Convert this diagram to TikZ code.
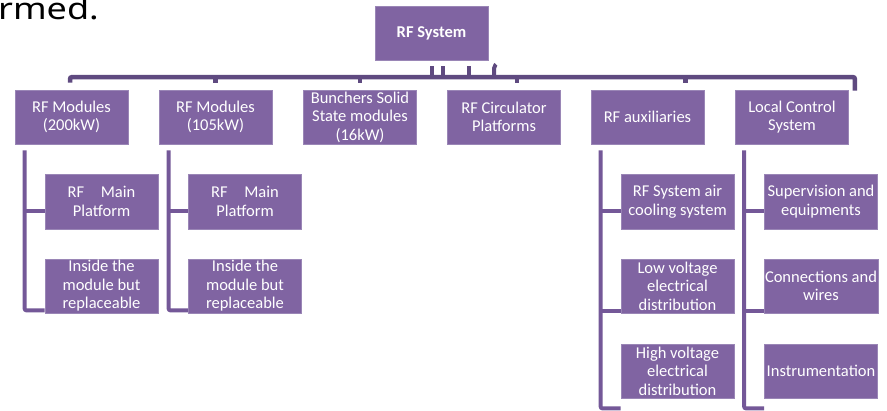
\documentclass[tikz,border=0pt]{standalone}
\usepackage{fontspec}
\setmainfont{Carlito}
\newfontfamily\titlefont{Noto Sans}
\usetikzlibrary{calc}
\definecolor{boxfill}{HTML}{8064A2}
\definecolor{boxline}{HTML}{9A86B6}
\definecolor{busline}{HTML}{5F4A80}
\definecolor{treeline}{HTML}{745898}
\begin{document}
\begin{tikzpicture}[x=1pt,y=-1pt,
  pbox/.style={draw=boxline,line width=0.8pt,fill=boxfill,text=white,
    minimum width=113pt,minimum height=54pt,inner sep=1pt,align=center,
    font=\fontsize{16.5}{18.5}\selectfont},
  conn/.style={draw=busline,line width=4.5pt,rounded corners=2pt},
  tconn/.style={draw=treeline,line width=4pt,rounded corners=2pt}]
\useasboundingbox (0,0) rectangle (887,411);
\fill[white] (0,0) rectangle (887,411);
% title fragment
\node[anchor=base west,inner sep=0pt] (ttl) at (-2,19.5)
  {\scalebox{1.2}[1]{\titlefont\fontsize{30}{32}\selectfont rmed.}};
% top node
\node[pbox,font=\fontsize{16.5}{18.5}\selectfont\bfseries] (sys) at (431.5,33) {RF System};
% level 1
\node[pbox] (m200) at (71.5,117) {RF Modules\\(200kW)};
\node[pbox] (m105) at (215.5,117) {RF Modules\\(105kW)};
\node[pbox] (bun) at (360,117) {Bunchers Solid\\State modules\\(16kW)};
\node[pbox] (circ) at (504,117) {RF Circulator\\Platforms};
\node[pbox] (aux) at (647.5,117) {RF auxiliaries};
\node[pbox] (lcs) at (792,117) {Local Control\\System};
% level 2
\node[pbox,minimum height=55pt] (a1) at (101.5,201.5) {RF\quad Main\\Platform};
\node[pbox] (a2) at (101.5,286) {Inside the\\module but\\replaceable};
\node[pbox,minimum height=55pt] (b1) at (245,201.5) {RF\quad Main\\Platform};
\node[pbox] (b2) at (245,286) {Inside the\\module but\\replaceable};
\node[pbox,minimum height=55pt] (c1) at (677.5,201.5) {RF System air\\cooling system};
\node[pbox] (c2) at (677.5,286) {Low voltage\\electrical\\distribution};
\node[pbox] (c3) at (677.5,371) {High voltage\\electrical\\distribution};
\node[pbox,minimum height=55pt] (d1) at (821,201.5) {Supervision and\\equipments};
\node[pbox] (d2) at (821,286) {Connections and\\wires};
\node[pbox] (d3) at (821,371) {Instrumentation};
% bus
\coordinate (busL) at ([xshift=-1.5pt,yshift=7pt]m200.north);
\coordinate (busR) at ([xshift=6pt,yshift=-1pt]lcs.north east);
\draw[conn] (busL) |- ([xshift=6pt,yshift=12.5pt]lcs.north east) -- (busR);
\foreach \n/\dx in {m105/0,bun/0,circ/13,aux/38}{
  \draw[conn,rounded corners=0pt] ([xshift=\dx pt,yshift=7pt]\n.north) -- ([xshift=\dx pt,yshift=13pt]\n.north);
}
\foreach \dx/\top in {0.5/-6,11/-6,37.5/-6}{
  \draw[conn,line width=4pt,rounded corners=0pt] ([xshift=\dx pt,yshift=\top pt]sys.south) -- ([xshift=\dx pt,yshift=-18pt]sys.south);
}
\draw[conn,line width=4pt] ([xshift=62.5pt,yshift=-18pt]sys.south) -- ([xshift=62.5pt,yshift=-6pt]sys.south) -- ([xshift=64.5pt,yshift=-4pt]sys.south);
% trees
\coordinate (va) at ([xshift=10pt,yshift=-6pt]m200.south west);
\coordinate (sa) at ([yshift=-9.5pt]a1.west);
\draw[tconn] (va) |- ([yshift=3pt]a2.south west);
\draw[tconn,rounded corners=0pt] (sa) -- (va |- sa);
\coordinate (vb) at ([xshift=10pt,yshift=-6pt]m105.south west);
\coordinate (sb) at ([yshift=-9.5pt]b1.west);
\draw[tconn] (vb) |- ([yshift=3pt]b2.south west);
\draw[tconn,rounded corners=0pt] (sb) -- (vb |- sb);
\coordinate (vc) at ([xshift=10pt,yshift=-6pt]aux.south west);
\coordinate (sc1) at ([yshift=-9.5pt]c1.west);
\coordinate (sc2) at ([yshift=2pt]c2.south west);
\draw[tconn] (vc) |- ([yshift=-10pt]c3.south west);
\draw[tconn,rounded corners=0pt] (sc1) -- (vc |- sc1);
\draw[tconn,rounded corners=0pt] (sc2) -- (vc |- sc2);
\coordinate (vd) at ([xshift=9pt,yshift=-6pt]lcs.south west);
\coordinate (sd1) at ([yshift=-9.5pt]d1.west);
\coordinate (sd2) at ([yshift=2pt]d2.south west);
\draw[tconn] (vd) |- ([yshift=-10pt]d3.south west);
\draw[tconn,rounded corners=0pt] (sd1) -- (vd |- sd1);
\draw[tconn,rounded corners=0pt] (sd2) -- (vd |- sd2);
\end{tikzpicture}
\end{document}
